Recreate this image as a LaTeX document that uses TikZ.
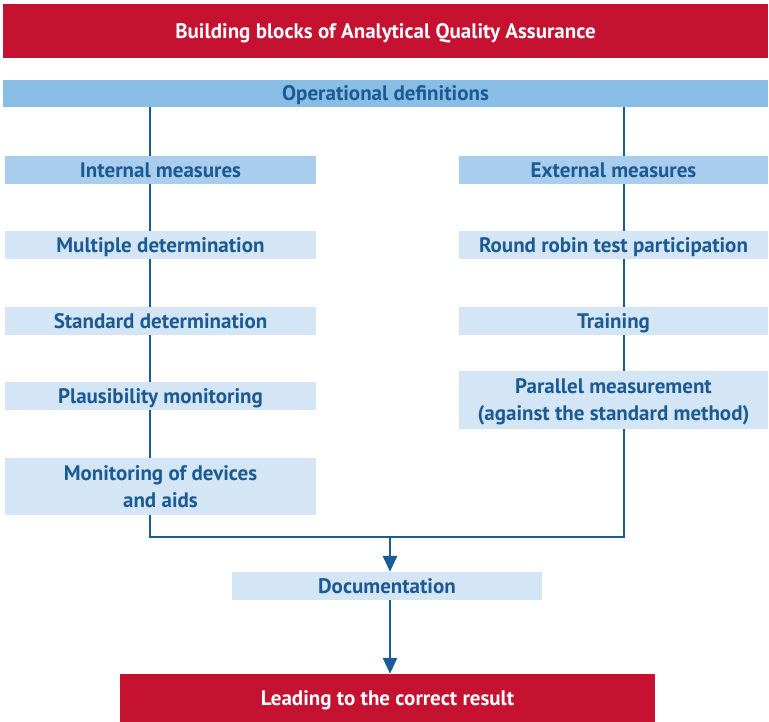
\documentclass[tikz,border=0pt]{standalone}
\usepackage{fontspec}
\setmainfont{PT Sans}
\usetikzlibrary{arrows.meta,backgrounds}
\definecolor{aqred}{HTML}{C41230}
\definecolor{aqblue}{HTML}{1B5A93}
\definecolor{aqmid}{HTML}{88BDE6}
\definecolor{aqlight}{HTML}{A9CDED}
\definecolor{aqpale}{HTML}{D4E5F5}
\tikzset{
  x=1pt, y=-1pt,
  % text is centred on its capital letters
  base/.style={rectangle, inner sep=0pt, align=center, text height=14.7pt, text depth=-2pt,
    font=\fontsize{21}{27}\selectfont\bfseries, text=aqblue},
  twolines/.style={text height=41.7pt},
  redbox/.style={base, fill=aqred, text=white},
  midbox/.style={base, fill=aqmid},
  headbox/.style={base, fill=aqlight},
  itembox/.style={base, fill=aqpale},
  flow/.style={draw=aqblue, line width=2.8pt},
  flowarrow/.style={flow, -{Triangle[width=14pt,length=16pt]}},
}
\begin{document}
\begin{tikzpicture}
\useasboundingbox (0,0) rectangle (769,722);
% header and operational definitions
\node[redbox, minimum width=765, minimum height=54] (title) at (385.5,31) {Building blocks of Analytical Quality Assurance};
\node[midbox, minimum width=765, minimum height=27] (opdef) at (385.5,93.5) {Operational definitions};
% internal measures column
\node[headbox, minimum width=311, minimum height=28] (internal) at (160.5,170) {Internal measures};
\node[itembox, minimum width=311, minimum height=28] (multiple) at (160.5,245) {Multiple determination};
\node[itembox, minimum width=311, minimum height=28] (standard) at (160.5,321) {Standard determination};
\node[itembox, minimum width=311, minimum height=28] (plaus) at (160.5,396) {Plausibility monitoring};
\node[itembox, twolines, minimum width=311, minimum height=57] (devices) at (160.5,486.5) {Monitoring of devices\\and aids};
% external measures column
\node[headbox, minimum width=309, minimum height=28] (external) at (613.5,170) {External measures};
\node[itembox, minimum width=309, minimum height=28] (robin) at (613.5,245) {Round robin test participation};
\node[itembox, minimum width=309, minimum height=28] (training) at (613.5,321) {Training};
\node[itembox, twolines, minimum width=309, minimum height=58] (parallel) at (613.5,400) {Parallel measurement\\(against the standard method)};
% result chain
\node[itembox, minimum width=310, minimum height=28] (doc) at (387,586) {Documentation};
\node[redbox, minimum width=535, minimum height=48] (result) at (387.5,698) {Leading to the correct result};
% connectors behind the boxes
\coordinate (jl) at (150,537);
\coordinate (jr) at (624,537);
\coordinate (ax) at (390,537);
\begin{scope}[on background layer]
\draw[flow, line join=miter] (opdef.south -| jl) -- (jl) -- (jr) -- (opdef.south -| jr);
\end{scope}
\draw[flowarrow] (ax) -- (ax |- doc.north);
\draw[flowarrow] (ax |- doc.south) -- (ax |- result.north);
\end{tikzpicture}
\end{document}
